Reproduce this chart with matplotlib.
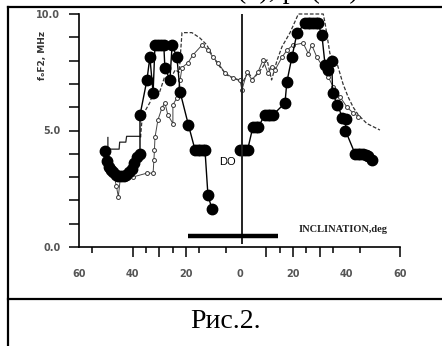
import matplotlib.pyplot as plt
from matplotlib.lines import Line2D

# filled circles, left and right branches
a_left_x = [-50.3, -49.6, -48.9, -48.1, -47.2, -46.3, -45.3, -44.3, -43.3, -42.3, -41.3, -40.3, -39.3, -38.3, -37.2, -37.2,
            -34.6, -33.5, -32.3, -31.6, -30.5, -29.4, -28.3, -27.9, -26.0, -25.2, -23.4, -22.2, -19.1,
            -16.6, -15.6, -14.6, -13.7, -12.9, -11.8, -10.3]
a_left_y = [4.1, 3.7, 3.45, 3.3, 3.2, 3.1, 3.05, 3.05, 3.05, 3.1, 3.2, 3.35, 3.6, 3.85, 4.0, 5.66,
            7.17, 8.15, 6.6, 8.67, 8.67, 8.67, 8.67, 7.7, 7.17, 8.67, 8.15, 6.65, 5.24,
            4.16, 4.16, 4.16, 4.16, 4.16, 2.23, 1.63]
a_right_x = [0.0, 1.0, 2.0, 3.0, 5.0, 6.0, 7.0, 9.5, 10.5, 11.5, 12.5, 17.0, 17.7, 19.6, 21.5,
             24.5, 25.5, 26.5, 27.5, 28.5, 29.3, 30.8, 32.0, 33.2, 34.5, 34.8, 36.6, 38.5, 39.8, 39.6,
             43.2, 44.2, 45.2, 46.2, 47.2, 48.2, 49.5]
a_right_y = [4.16, 4.16, 4.16, 4.16, 5.15, 5.15, 5.15, 5.67, 5.67, 5.67, 5.67, 6.18, 7.08, 8.15, 9.18,
             9.6, 9.6, 9.6, 9.6, 9.6, 9.6, 9.1, 7.8, 7.6, 8.0, 6.6, 6.1, 5.55, 5.5, 5.0,
             4.0, 4.0, 4.0, 4.0, 3.95, 3.9, 3.75]

# thin step line on the left
d_x = [-49.2, -49.2, -46.5, -45.0, -44.8, -42.5, -42.2, -37.0]
d_y = [4.7, 4.2, 4.2, 4.2, 4.5, 4.5, 4.75, 4.75]

# dashed curve
b_x = [-37.0, -36.5, -35.0, -33.5, -32.0, -30.0, -28.0, -26.0, -24.0, -22.5, -22.0, -21.5, -17.8, -14.8, -12.2,
       -9.9, -7.3, -4.7, -2.4, -0.5, 0.9, 3.2, 5.0, 8.4, 10.3, 12.0, 14.0, 15.9, 18.9, 22.0,
       31.3, 32.0, 33.8, 36.4, 38.7, 40.6, 42.5, 44.4, 47.6, 52.5]
b_y = [4.7, 5.4, 5.9, 6.2, 6.7, 6.6, 7.3, 7.2, 7.6, 7.5, 8.4, 9.2, 9.2, 8.97, 8.67,
       8.15, 7.73, 7.38, 7.25, 7.17, 7.0, 7.5, 7.2, 7.67, 8.03, 7.17, 8.0, 8.6, 9.2, 10.0,
       10.0, 9.6, 8.3, 7.9, 7.0, 6.44, 6.0, 5.67, 5.3, 5.02]

# open small markers curve
c_x = [-47.0, -46.0, -45.3, -44.5, -40.0, -34.6, -32.3, -32.0, -31.8, -31.6, -30.5, -29.0, -27.9, -26.8, -24.9,
       -24.9, -23.4, -22.2, -21.5, -19.3, -17.4, -14.0, -11.8, -9.9, -8.0, -5.4, -2.4, 0.2, 0.9, 2.8,
       4.7, 6.9, 8.8, 10.6, 12.1, 13.3, 15.9, 17.8, 20.0, 23.8, 25.7, 27.0, 28.9, 30.8, 33.2,
       35.0, 37.6, 40.2, 42.5, 44.4]
c_y = [3.1, 2.6, 2.16, 3.0, 3.0, 3.17, 3.17, 3.73, 4.16, 4.7, 5.45, 5.97, 6.2, 5.67, 5.3,
       6.1, 6.4, 7.17, 7.7, 7.9, 8.24, 8.67, 8.45, 8.15, 7.9, 7.47, 7.25, 7.17, 6.74, 7.5,
       7.17, 7.5, 8.03, 7.47, 7.73, 7.6, 8.15, 8.45, 8.67, 8.75, 8.3, 8.67, 8.15, 7.8, 7.3,
       6.87, 6.44, 6.0, 5.75, 5.6]

dip_x = 0.8             # vertical line
bar_y, bar_x0, bar_x1 = 0.47, -19.3, 14.4

xlabel_pos = [-60, -40, -20, 0, 20, 40, 60]
xlabel_txt = ['60', '40', '20', '0', '20', '40', '60']
long_ticks = [-40, -30, -20, 10, 20, 30, 60]
short_ticks = [-55, -35, -25, -15, -5, 15, 25, 35, 45]

fig = plt.figure(figsize=(4.42, 3.46), dpi=100)
ax = fig.add_axes([68.3 / 442, 99 / 346, 331.7 / 442, 233 / 346])
ax.set_xlim(-64, 60)
ax.set_ylim(0, 10)

ax.plot(d_x, d_y, color='#222222', lw=0.9)
ax.plot(b_x, b_y, color='#333333', lw=0.9, ls=(0, (3, 1.5)), clip_on=False)
ax.plot(c_x, c_y, color='#444444', lw=0.7, marker='o', ms=2.8, mfc='white', mec='#333333', mew=0.7)
ax.plot(a_left_x, a_left_y, color='black', lw=1.0, marker='o', ms=7.5, clip_on=False)
ax.plot(a_right_x, a_right_y, color='black', lw=1.0, marker='o', ms=7.5, clip_on=False)

ax.vlines(dip_x, 0.15, 10, color='#222222', lw=1.4)
ax.hlines(bar_y, bar_x0, bar_x1, color='black', lw=3.2)
ax.text(-7.5, 3.65, 'DO', fontsize=8, family='Liberation Sans', va='center', ha='left')
ax.text(22, 0.75, 'INCLINATION,deg', fontsize=7.5, family='Liberation Serif',
        fontweight='bold', va='center', ha='left', color='#222222')

for s in ['top', 'right']:
    ax.spines[s].set_visible(False)
ax.spines['left'].set_position(('data', -60))
ax.spines['left'].set_linewidth(1.2)
ax.spines['bottom'].set_linewidth(1.2)
ax.spines['bottom'].set_bounds(-60, 60)

ax.set_yticks(range(11))
ax.set_yticklabels(['0.0', '', '', '', '', '5.0', '', '', '', '', '10.0'])
ax.tick_params(axis='y', length=7.5, width=1.1, pad=6, labelsize=7, labelcolor='#555555')
for t in ax.get_yticklabels():
    t.set_fontweight('bold')

ax.set_xticks(long_ticks)
ax.set_xticklabels([])
ax.set_xticks(short_ticks, minor=True)
ax.tick_params(axis='x', which='major', length=7.5, width=1.1)
ax.tick_params(axis='x', which='minor', length=4, width=1.1)

sec = ax.secondary_xaxis(0)
sec.spines['bottom'].set_visible(False)
sec.set_xticks(xlabel_pos, labels=xlabel_txt)
sec.tick_params(length=0, pad=16, labelsize=7, labelcolor='#555555')
for t in sec.get_xticklabels():
    t.set_fontweight('bold')

fig.text(43 / 442, 1 - 55 / 346, 'f\u2092F2, MHz', rotation=90, fontsize=6.5,
         fontweight='bold', ha='center', va='center', color='#333333')

# page frame and caption
lw_frame = 1.6
fig.add_artist(Line2D([8 / 442, 8 / 442], [0, 1 - 7 / 346], color='black', lw=lw_frame))
fig.add_artist(Line2D([8 / 442, 1], [1 - 7 / 346, 1 - 7 / 346], color='black', lw=lw_frame))
fig.add_artist(Line2D([8 / 442, 1], [1 - 299 / 346, 1 - 299 / 346], color='black', lw=lw_frame))
fig.text(226 / 442, 1 - 321 / 346, 'Рис.2.', fontsize=20, family='Liberation Serif',
         ha='center', va='center')
fig.text(237 / 442, 1 + 2 / 346, '(θ), р  (θ I)', fontsize=20, family='Liberation Serif',
         ha='left', va='baseline')

plt.savefig('out.png', dpi=100)
